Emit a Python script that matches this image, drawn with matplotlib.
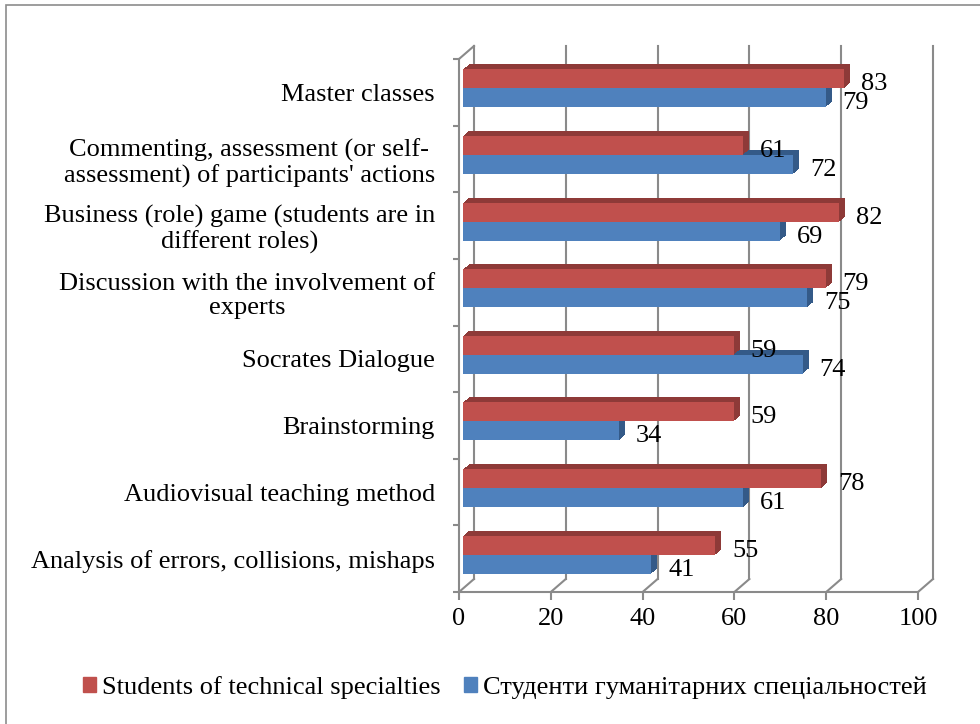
import matplotlib
matplotlib.use("Agg")
import matplotlib.pyplot as plt
from matplotlib.patches import Patch, Rectangle
from matplotlib.transforms import ScaledTranslation
import matplotlib.patheffects as pe

plt.rcParams['font.family'] = ['Liberation Serif', 'DejaVu Serif']

# categories from bottom to top
categories = [
    "Analysis of errors, collisions, mishaps",
    "Audiovisual teaching method",
    "Brainstorming",
    "Socrates Dialogue",
    "Discussion with the involvement of\nexperts",
    "Business (role) game (students are in\ndifferent roles)",
    "Commenting, assessment (or self-\nassessment) of participants' actions",
    "Master classes",
]
technical = [55, 78, 59, 59, 79, 82, 61, 83]
humanities = [41, 61, 34, 74, 75, 69, 72, 79]
series_names = ["Students of technical specialties",
                "Студенти гуманітарних спеціальностей"]
xticks = [0, 20, 40, 60, 80, 100]

RED, RED_DARK = "#C0504D", "#8E3A38"
BLUE, BLUE_DARK = "#4F81BD", "#345A88"
GRID = "#8A8A8A"
FS = 19

W, H = 980, 724
fig = plt.figure(figsize=(W / 100, H / 100), dpi=100)
# front wall of the 3d box, in pixels
x0, x1, ytop, ybot = 459, 918, 59, 592
ax = fig.add_axes([x0 / W, (H - ybot) / H, (x1 - x0) / W, (ybot - ytop) / H])
ax.set_xlim(0, 100)
ax.set_ylim(-0.5, len(categories) - 0.5)

# pixel -> data conversion for the depth lines
sx = 100 / (x1 - x0)
sy = len(categories) / (ybot - ytop)
dxb, dyb = 15 * sx, 13 * sy  # back wall depth

ytop_d = len(categories) - 0.5
for v in xticks:
    ax.plot([v + dxb, v + dxb], [-0.5 + dyb, ytop_d + dyb], color=GRID, lw=1.5,
            clip_on=False, zorder=1)
    ax.plot([v, v + dxb], [-0.5, -0.5 + dyb], color=GRID, lw=1.5,
            clip_on=False, zorder=1)
ax.plot([0, dxb], [ytop_d, ytop_d + dyb], color=GRID, lw=1.5, clip_on=False, zorder=1)


def px(dx, dy):
    return ScaledTranslation(dx / 100, dy / 100, fig.dpi_scale_trans)


bar_tr = ax.transData + px(4, 4)
h = 0.285
ypos = list(range(len(categories)))


def extrude(dark):
    effs = []
    n = 10
    for k in range(1, n + 1):
        d = 6 * k / n
        effs.append(pe.SimplePatchShadow(offset=(d * 0.72, d * 5 / 6 * 0.72),
                                         shadow_rgbFace=dark, alpha=1.0))
    effs.append(pe.Normal())
    return effs


yb = [y - h / 2 for y in ypos]
yr = [y + h / 2 for y in ypos]
bb = ax.barh(yb, humanities, height=h, color=BLUE, edgecolor="none",
             transform=bar_tr, zorder=2, clip_on=False)
br = ax.barh(yr, technical, height=h, color=RED, edgecolor="none",
             transform=bar_tr, zorder=3, clip_on=False)
for p in bb:
    p.set_path_effects(extrude(BLUE_DARK))
for p in br:
    p.set_path_effects(extrude(RED_DARK))

lab_tr = ax.transData + px(21, -7.5)
for y, v in zip(yb, humanities):
    ax.text(v, y, str(v), transform=lab_tr, fontsize=FS, va="baseline",
            ha="left", zorder=5)
for y, v in zip(yr, technical):
    ax.text(v, y, str(v), transform=lab_tr, fontsize=FS, va="baseline",
            ha="left", zorder=5)

for s in ["top", "right"]:
    ax.spines[s].set_visible(False)
for s in ["left", "bottom"]:
    ax.spines[s].set_color(GRID)
    ax.spines[s].set_linewidth(1.5)

ax.set_xticks(xticks)
ax.tick_params(axis="x", direction="out", length=5.5, width=1.5, color=GRID,
               labelsize=FS, pad=6)
ax.set_yticks(ypos)
ax.set_yticklabels(categories)
ax.set_yticks([y - 0.5 for y in range(len(categories) + 1)], minor=True)
ax.tick_params(axis="y", which="major", length=0, labelsize=FS, pad=17.3)
ax.tick_params(axis="y", which="minor", direction="out", length=4.3, width=1.5,
               color=GRID)
for lbl in ax.get_yticklabels():
    lbl.set_multialignment("center")
    lbl.set_linespacing(1.16)
ax.set_facecolor("none")

handles = [Patch(color=RED), Patch(color=BLUE)]
fig.legend(handles, series_names, loc="center", bbox_to_anchor=(0.515, 0.05),
           ncol=2, frameon=False, fontsize=FS, handlelength=0.49,
           handleheight=0.49, handletextpad=0.23, columnspacing=0.87)

fig.patches.append(Rectangle((6 / W, -0.1), 1.2, (H - 5) / H + 0.1,
                             transform=fig.transFigure, fill=False,
                             ec="#8C8C8C", lw=1.2))

fig.savefig("out.png", dpi=100)
